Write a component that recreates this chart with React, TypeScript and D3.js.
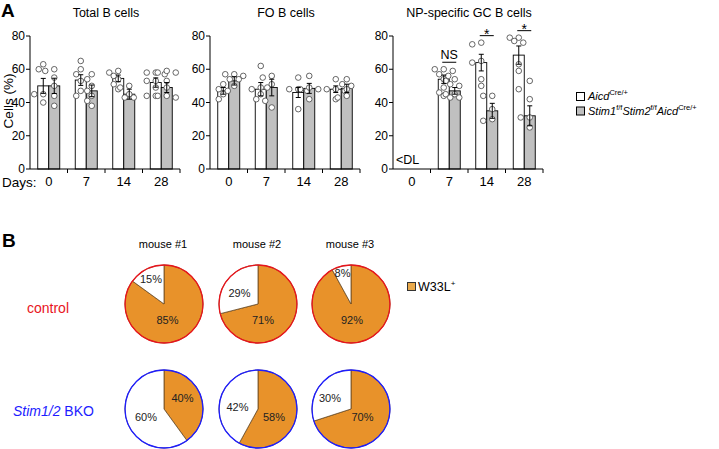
import React from 'react';
import * as d3 from 'd3';

// ---------- Panel A data ----------
const days = ['0', '7', '14', '28'];
const yTicks = [0, 20, 40, 60, 80];
const panelTitles = ['Total B cells', 'FO B cells', 'NP-specific GC B cells'];

const totalCtrlMean = [50, 53.5, 54.5, 52];
const totalCtrlSem = [4.5, 3.2, 2, 2.8];
const totalKoMean = [50, 47, 45, 49];
const totalKoSem = [4.6, 3.5, 3, 3];
const totalCtrlDots = [[63, 60, 45, 45, 40], [65, 60, 57, 53, 47, 44], [59, 58, 56, 54, 51, 48], [58, 58, 57, 53, 53, 49, 44, 44]];
const totalKoDots = [[60, 59, 55, 50, 44, 38], [57, 54, 50, 47, 44, 41, 38], [50, 49, 45, 43, 43], [59, 58, 58, 53, 49, 44, 44, 43]];

const foCtrlMean = [47, 48, 46, 48];
const foCtrlSem = [2, 4, 3, 2];
const foKoMean = [53, 49, 48.5, 48.5];
const foKoSem = [2.5, 5, 3, 2.5];
const foCtrlDots = [[51, 48, 45, 42, 47], [62, 49, 48, 45, 42, 41], [55, 48, 48, 47, 36], [54, 48, 48, 47, 42]];
const foKoDots = [[57, 57, 56, 54, 54, 50], [56, 55, 51, 49, 37], [56, 49, 48, 48, 42], [54, 51, 50, 48, 44, 43]];

const npCtrlMean = [null, 54, 64, 68.5];
const npCtrlSem = [null, 2.5, 5, 5.5];
const npKoMean = [null, 47, 35, 32];
const npKoSem = [null, 2, 4.5, 6];
const npCtrlDots = [[], [60, 60, 59, 57, 56, 54, 49, 46, 44], [76, 75, 65, 64, 54, 50], [79, 79, 77, 76, 63, 59, 48]];
const npKoDots = [[], [54, 53, 51, 50, 45, 45, 43, 43], [44, 44, 36, 30, 29], [53, 42, 31, 31, 25]];
const npSig = ['', 'NS', '*', '*'];

// ---------- Panel B data ----------
const mice = ['mouse #1', 'mouse #2', 'mouse #3'];
const groups = ['control', 'Stim1/2 BKO'];
const controlW33L = [85, 71, 92];
const bkoW33L = [40, 58, 70];

// ---------- layout / style ----------
const FONT = 'Liberation Sans, Arial, Helvetica, sans-serif';
const axisXs = [30, 210, 393];
const panelW = 150;
const yScale = d3.scaleLinear().domain([0, 80]).range([169, 36]);
const BAR_W = 11;
const DOT_R = 2.8;
const GREY = '#c0c0c0';
const ORANGE = '#e8922a';
const pieCx = [164, 258, 351];
const pieCy = [304, 409];
const PIE_R = 39;
const rowColors = ['#e8141c', '#1d1dff'];
// label offsets [orange, white] relative to pie centre
const labelOff = [
  [[[3.5, 16], [-13, -25]], [[5, 16], [-18.5, -11.5]], [[1, 16], [-8.5, -31.5]]],
  [[[18.5, -11], [-18, 8]], [[16, 8], [-20.5, -2]], [[11.5, 8], [-21, -11]]],
];

function swarm(vals: number[], cx: number) {
  const placed: { x: number; y: number; v: number }[] = [];
  const order = vals.map((v, i) => ({ v, i })).sort((a, b) => b.v - a.v);
  const cands = [0, -4.5, 4.5, -9, 9, -2.5, 2.5, -6.5, 6.5, -11, 11];
  for (const o of order) {
    const y = yScale(o.v);
    let x = cx;
    for (const c of cands) {
      const tx = cx + c;
      if (placed.every((p) => Math.hypot(p.x - tx, p.y - y) >= 5.4)) { x = tx; break; }
    }
    placed.push({ x, y, v: o.v });
  }
  return placed;
}

type PanelData = {
  cm: (number | null)[]; cs: (number | null)[]; km: (number | null)[]; ks: (number | null)[];
  cd: number[][]; kd: number[][]; sig?: string[]; dl?: boolean;
};

const panels: PanelData[] = [
  { cm: totalCtrlMean, cs: totalCtrlSem, km: totalKoMean, ks: totalKoSem, cd: totalCtrlDots, kd: totalKoDots },
  { cm: foCtrlMean, cs: foCtrlSem, km: foKoMean, ks: foKoSem, cd: foCtrlDots, kd: foKoDots },
  { cm: npCtrlMean, cs: npCtrlSem, km: npKoMean, ks: npKoSem, cd: npCtrlDots, kd: npKoDots, sig: npSig, dl: true },
];

function ErrorBar({ x, m, s }: { x: number; m: number; s: number }) {
  const y1 = yScale(m + s), y2 = yScale(m - s);
  return (
    <g stroke="#000" strokeWidth={1}>
      <line x1={x} x2={x} y1={y1} y2={y2} />
      <line x1={x - 2.5} x2={x + 2.5} y1={y1} y2={y1} />
      <line x1={x - 2.5} x2={x + 2.5} y1={y2} y2={y2} />
    </g>
  );
}

function Panel({ idx }: { idx: number }) {
  const p = panels[idx];
  const x0 = axisXs[idx];
  const band = d3.scaleBand().domain(days).range([x0, x0 + panelW]).padding(0);
  const y0 = yScale(0);
  return (
    <g>
      <text x={x0 + 76} y={17} fontSize={12.5} textAnchor="middle" fontFamily={FONT}>{panelTitles[idx]}</text>
      {days.map((d, i) => {
        const c = band(d)! + band.bandwidth() / 2;
        const cm = p.cm[i], km = p.km[i], cs = p.cs[i], ks = p.ks[i];
        const cdots = swarm(p.cd[i], c - BAR_W / 2);
        const kdots = swarm(p.kd[i], c + BAR_W / 2);
        const allDots = [...p.cd[i], ...p.kd[i]];
        const sig = p.sig ? p.sig[i] : '';
        const lineY = allDots.length ? yScale(d3.max(allDots)!) - 7 : 0;
        return (
          <g key={d}>
            {cm != null && (
              <rect x={c - BAR_W} y={yScale(cm)} width={BAR_W} height={y0 - yScale(cm)} fill="#fff" stroke="#000" strokeWidth={0.9} />
            )}
            {km != null && (
              <rect x={c} y={yScale(km)} width={BAR_W} height={y0 - yScale(km)} fill={GREY} stroke="#000" strokeWidth={0.9} />
            )}
            {[...cdots, ...kdots].map((pt, j) => (
              <circle key={j} cx={pt.x} cy={pt.y} r={DOT_R} fill="#fff" stroke="#555" strokeWidth={0.9} />
            ))}
            {cm != null && cs != null && <ErrorBar x={c - BAR_W / 2} m={cm} s={cs} />}
            {km != null && ks != null && <ErrorBar x={c + BAR_W / 2} m={km} s={ks} />}
            {sig && (
              <g>
                <line x1={c - 7} x2={c + 7} y1={lineY} y2={lineY} stroke="#000" strokeWidth={1} />
                {sig === '*' ? (
                  <text x={c} y={lineY + 3} fontSize={14} textAnchor="middle" fontFamily={FONT}>*</text>
                ) : (
                  <text x={c} y={lineY - 3} fontSize={12.5} textAnchor="middle" fontFamily={FONT}>{sig}</text>
                )}
              </g>
            )}
            <text x={c} y={186} fontSize={13} textAnchor="middle" fontFamily={FONT}>{d}</text>
            <line x1={band(d)! + band.bandwidth()} x2={band(d)! + band.bandwidth()} y1={y0} y2={y0 + 4} stroke="#000" strokeWidth={1} />
          </g>
        );
      })}
      {p.dl && (
        <text x={band('0')! + 3} y={164} fontSize={12.5} fontFamily={FONT}>&lt;DL</text>
      )}
      {/* axes */}
      <line x1={x0} x2={x0} y1={yScale(80)} y2={y0} stroke="#000" strokeWidth={1} />
      <line x1={x0} x2={x0 + panelW} y1={y0} y2={y0} stroke="#000" strokeWidth={1} />
      {yTicks.map((t) => (
        <g key={t}>
          <line x1={x0 - 4} x2={x0} y1={yScale(t)} y2={yScale(t)} stroke="#000" strokeWidth={1} />
          <text x={x0 - 5} y={yScale(t) + 4} fontSize={12} textAnchor="end" fontFamily={FONT}>{t}</text>
        </g>
      ))}
    </g>
  );
}

function Pie({ row, col }: { row: number; col: number }) {
  const val = row === 0 ? controlW33L[col] : bkoW33L[col];
  const arcs = d3.pie<number>().sort(null)([val, 100 - val]);
  const arcGen = d3.arc<d3.PieArcDatum<number>>().innerRadius(0).outerRadius(PIE_R);
  const cx = pieCx[col], cy = pieCy[row];
  const offs = labelOff[row][col];
  return (
    <g transform={`translate(${cx},${cy})`}>
      {arcs.map((a, i) => (
        <path key={i} d={arcGen(a)!} fill={i === 0 ? ORANGE : '#fff'} stroke="#6b4a22" strokeWidth={0.8} />
      ))}
      <circle r={PIE_R} fill="none" stroke={rowColors[row]} strokeWidth={1.3} />
      {arcs.map((a, i) => (
        <text key={'t' + i} x={offs[i][0]} y={offs[i][1] + 4} fontSize={11} textAnchor="middle" fontFamily={FONT} fill="#222">
          {`${a.data}%`}
        </text>
      ))}
    </g>
  );
}

export default function App() {
  return (
    <svg width={719} height={449} style={{ position: 'absolute', left: 0, top: 0, background: '#fff' }} fontFamily={FONT}>
      <rect width={719} height={449} fill="#fff" />
      <text x={1} y={17} fontSize={19} fontWeight="bold">A</text>
      <text transform="translate(12.5,101) rotate(-90)" fontSize={13.5} textAnchor="middle">Cells (%)</text>
      <text x={2} y={187} fontSize={13.5}>Days:</text>
      {[0, 1, 2].map((i) => <Panel key={i} idx={i} />)}

      {/* legend A */}
      <rect x={576.5} y={92.5} width={8} height={8} fill="#fff" stroke="#000" strokeWidth={1} />
      <text x={588} y={100} fontSize={11} fontStyle="italic">Aicd<tspan fontSize={7.5} fontStyle="normal" dy={-5}>Cre/+</tspan></text>
      <rect x={576.5} y={107} width={8} height={8} fill={GREY} stroke="#000" strokeWidth={1} />
      <text x={588} y={115} fontSize={11} fontStyle="italic">
        Stim1<tspan fontSize={7.5} fontStyle="normal" dy={-5}>f/f</tspan>
        <tspan dy={5}>Stim2</tspan><tspan fontSize={7.5} fontStyle="normal" dy={-5}>f/f</tspan>
        <tspan dy={5}>Aicd</tspan><tspan fontSize={7.5} fontStyle="normal" dy={-5}>Cre/+</tspan>
      </text>

      {/* panel B */}
      <text x={2} y={247} fontSize={19} fontWeight="bold">B</text>
      {mice.map((m, i) => (
        <text key={m} x={pieCx[i] - 1} y={248} fontSize={11} textAnchor="middle">{m}</text>
      ))}
      <text x={27} y={313} fontSize={14} fill={rowColors[0]}>{groups[0]}</text>
      <text x={13} y={416} fontSize={14} fill={rowColors[1]}>
        <tspan fontStyle="italic">Stim1/2</tspan> BKO
      </text>
      {[0, 1].map((r) => [0, 1, 2].map((c) => <Pie key={`${r}-${c}`} row={r} col={c} />))}
      <rect x={407.5} y={282.5} width={8} height={8} fill="#e9a94b" stroke="#333" strokeWidth={1} />
      <text x={418} y={291} fontSize={12.5}>W33L<tspan fontSize={8} dy={-5}>+</tspan></text>
    </svg>
  );
}
